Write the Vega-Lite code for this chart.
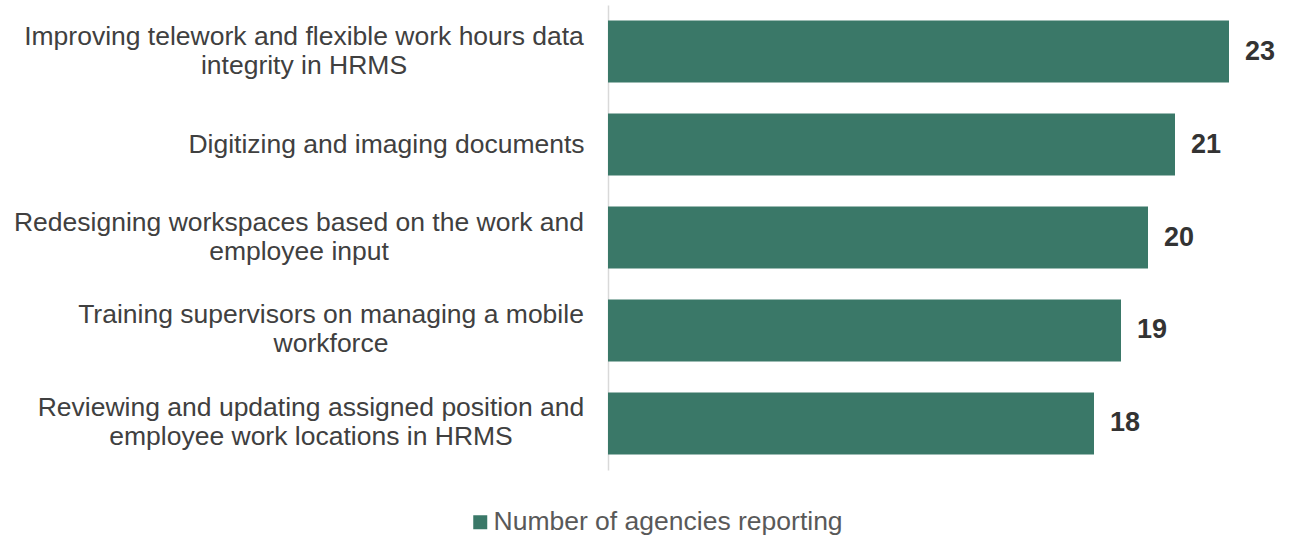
{
  "$schema": "https://vega.github.io/schema/vega-lite/v6.json",
  "autosize": {"type": "none"},
  "width": 675,
  "height": 465,
  "padding": {"left": 608, "top": 5, "right": 9, "bottom": 67},
  "background": "white",
  "config": {"view": {"stroke": null}, "font": "Liberation Sans"},
  "data": {
    "values": [
      {"task": "Improving telework and flexible work hours data|integrity in HRMS", "agencies": 23, "series": "Number of agencies reporting"},
      {"task": "Digitizing and imaging documents", "agencies": 21, "series": "Number of agencies reporting"},
      {"task": "Redesigning workspaces based on the work and|employee input", "agencies": 20, "series": "Number of agencies reporting"},
      {"task": "Training supervisors on managing a mobile|workforce", "agencies": 19, "series": "Number of agencies reporting"},
      {"task": "Reviewing and updating assigned position and|employee work locations in HRMS", "agencies": 18, "series": "Number of agencies reporting"}
    ]
  },
  "encoding": {
    "y": {
      "field": "task",
      "type": "nominal",
      "sort": null,
      "scale": {"paddingInner": 0.333, "paddingOuter": 0.1667},
      "axis": {
        "title": null,
        "ticks": false,
        "domain": true,
        "domainColor": "#D9D9D9",
        "domainWidth": 1.5,
        "labelExpr": "split(datum.value, '|')",
        "labelFontSize": 26.5,
        "labelLineHeight": 29,
        "labelColor": "#404040",
        "labelAlign": "center",
        "labelLimit": 0,
        "labelOffset": {
          "condition": {"test": "indexof(datum.value, '|') >= 0", "value": -15},
          "value": 0
        },
        "labelPadding": {
          "condition": [
            {"test": "indexof(datum.value, 'Improving') == 0", "value": 304.5},
            {"test": "indexof(datum.value, 'Digitizing') == 0", "value": 222},
            {"test": "indexof(datum.value, 'Redesigning') == 0", "value": 309.5},
            {"test": "indexof(datum.value, 'Training') == 0", "value": 277.5}
          ],
          "value": 297.5
        }
      }
    },
    "x": {
      "field": "agencies",
      "type": "quantitative",
      "scale": {"domain": [0, 25], "nice": false},
      "axis": null
    }
  },
  "layer": [
    {
      "mark": {"type": "bar", "color": "#3A7868"},
      "encoding": {
        "color": {
          "field": "series",
          "type": "nominal",
          "scale": {"range": ["#3A7868"]},
          "legend": {
            "title": null,
            "orient": "none",
            "legendX": -141,
            "legendY": 504,
            "symbolType": "square",
            "symbolSize": 196,
            "symbolStrokeWidth": 0,
            "labelFontSize": 26.5,
            "labelColor": "#595959",
            "labelOffset": 0,
            "labelLimit": 0
          }
        }
      }
    },
    {
      "mark": {"type": "text", "align": "left", "baseline": "middle", "dx": 16, "fontSize": 27, "fontWeight": "bold", "color": "#333333"},
      "encoding": {"text": {"field": "agencies", "type": "quantitative"}}
    }
  ]
}
